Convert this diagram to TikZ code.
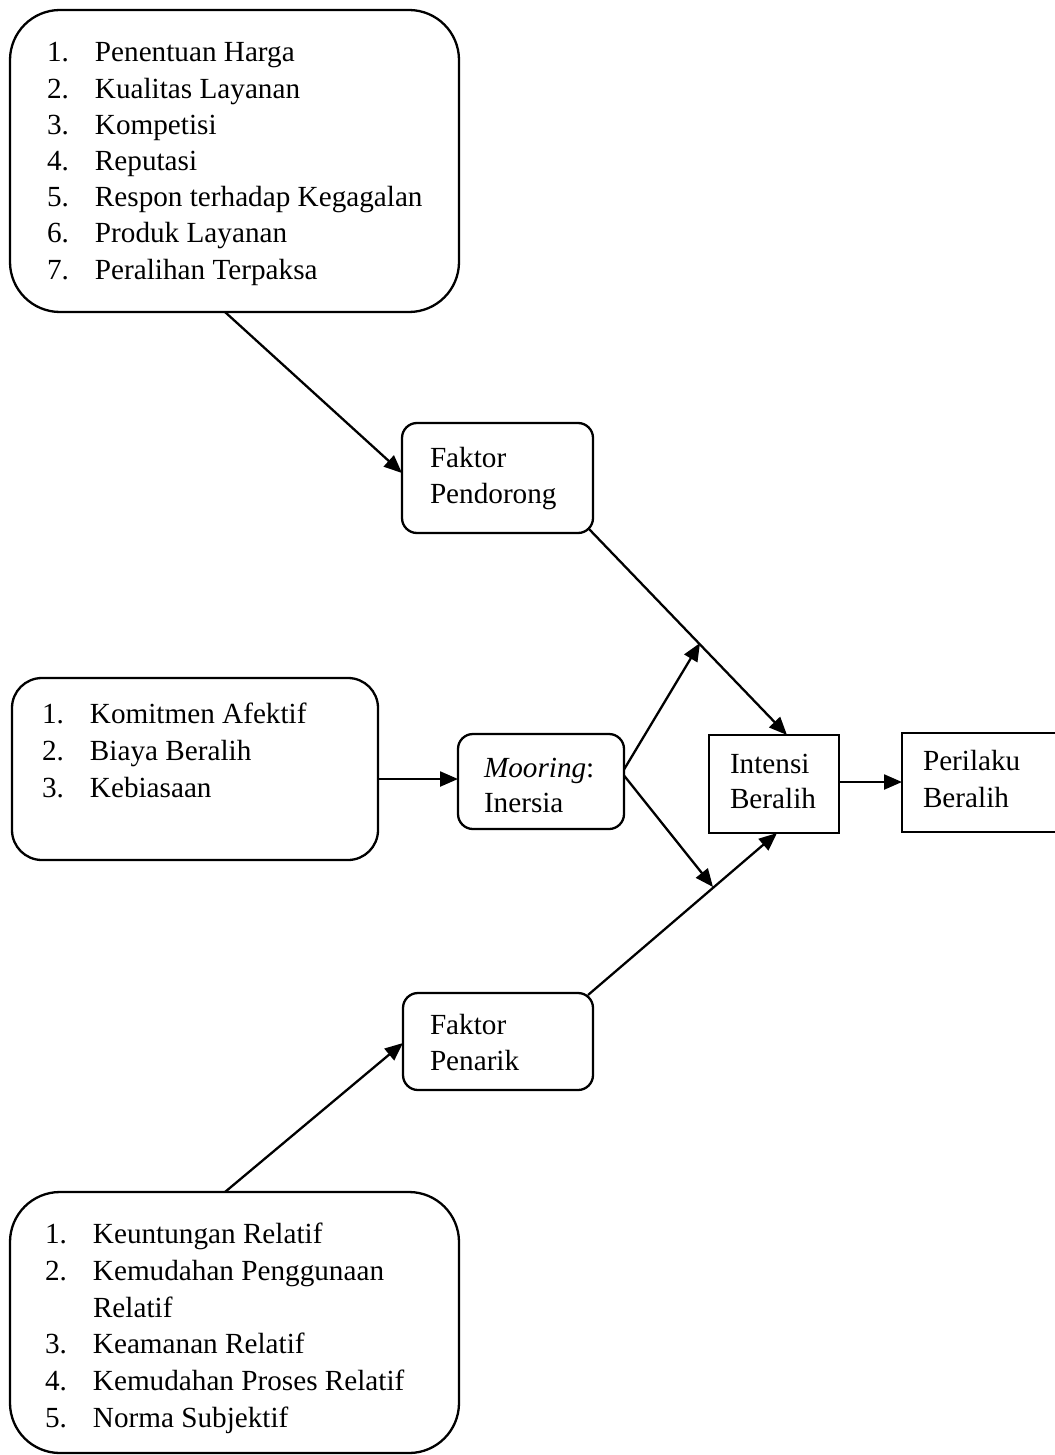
\documentclass[tikz,border=0pt]{standalone}
\usepackage{fontspec}
\setmainfont{Liberation Serif}
\usetikzlibrary{arrows.meta,calc}
\begin{document}
\begin{tikzpicture}[x=1pt,y=-1pt,
  every node/.style={font=\fontsize{29.2}{36}\selectfont},
  box/.style={draw,line width=2.3pt,inner sep=0pt,outer sep=0pt},
  rbox/.style={box,rounded corners=#1},
  txt/.style={anchor=base west,inner sep=0pt,outer sep=0pt},
  conn/.style={line width=2.3pt,-{Triangle[length=18pt,width=15pt]}}]
\useasboundingbox (0,0) rectangle (1054,1455);
% boxes
\node[rbox=50pt,minimum width=449pt,minimum height=302pt] (A) at (234.5,161) {};
\node[rbox=15pt,minimum width=191pt,minimum height=110pt] (B) at (497.5,478) {};
\node[rbox=30pt,minimum width=366pt,minimum height=182pt] (C) at (195,769) {};
\node[rbox=15pt,minimum width=166pt,minimum height=95pt] (D) at (541,781.5) {};
\node[box,minimum width=130pt,minimum height=98pt] (E) at (774,784) {};
\node[box,minimum width=162pt,minimum height=99pt] (F) at (983,782.5) {};
\node[rbox=15pt,minimum width=190pt,minimum height=97pt] (G) at (498,1041.5) {};
\node[rbox=50pt,minimum width=449pt,minimum height=261pt] (H) at (234.5,1322.5) {};
% list texts
\foreach \t [count=\i] in {Penentuan Harga,Kualitas Layanan,Kompetisi,Reputasi,Respon terhadap Kegagalan,Produk Layanan,Peralihan Terpaksa}
  \node[txt] (a\i) at (47,{62+36.2*(\i-1)}) {\makebox[48pt][l]{\i.}\t};
\foreach \t [count=\i] in {Komitmen Afektif,Biaya Beralih,Kebiasaan}
  \node[txt] (c\i) at (42,{723+37*(\i-1)}) {\makebox[48pt][l]{\i.}\t};
\node[txt] (h1) at (45,1243) {\makebox[48pt][l]{1.}Keuntungan Relatif};
\node[txt] (h2) at (45,1280) {\makebox[48pt][l]{2.}Kemudahan Penggunaan};
\node[txt] (h2b) at (93,1317) {Relatif};
\node[txt] (h3) at (45,1353) {\makebox[48pt][l]{3.}Keamanan Relatif};
\node[txt] (h4) at (45,1390) {\makebox[48pt][l]{4.}Kemudahan Proses Relatif};
\node[txt] (h5) at (45,1427) {\makebox[48pt][l]{5.}Norma Subjektif};
% box texts
\node[txt] (b1) at (430,467) {Faktor};
\node[txt] (b2) at (430,503) {Pendorong};
\node[txt] (d1) at (484,777) {\textit{Mooring}:};
\node[txt] (d2) at (484,812) {Inersia};
\node[txt] (e1) at (730,773) {Intensi};
\node[txt] (e2) at (730,808) {Beralih};
\node[txt] (f1) at (923,770) {Perilaku};
\node[txt] (f2) at (923,807) {Beralih};
\node[txt] (g1) at (430,1034) {Faktor};
\node[txt] (g2) at (430,1070) {Penarik};
% junction points
\coordinate (p1) at (700,643);
\coordinate (p2) at (713,887);
% connectors
\draw[conn] ([xshift=-9.5pt]A.south) -- ([yshift=5pt]B.west);
\draw[conn] ([shift={(-4pt,4pt)}]B.south east) -- ([xshift=13pt]E.north);
\draw[conn] ([yshift=-10pt]C.east) -- ([yshift=-10pt]C.east -| D.west);
\draw[conn] ([yshift=12pt]D.east) -- (p1);
\draw[conn] ([yshift=6pt]D.east) -- (p2);
\draw[conn] ([shift={(-5pt,-2pt)}]G.north east) -- ([xshift=3pt]E.south);
\draw[conn] ([yshift=2pt]E.east) -- ([yshift=2pt]E.east -| F.west);
\draw[conn] ([xshift=-9.5pt]H.north) -- ([yshift=-1.5pt]G.west);
\end{tikzpicture}
\end{document}
